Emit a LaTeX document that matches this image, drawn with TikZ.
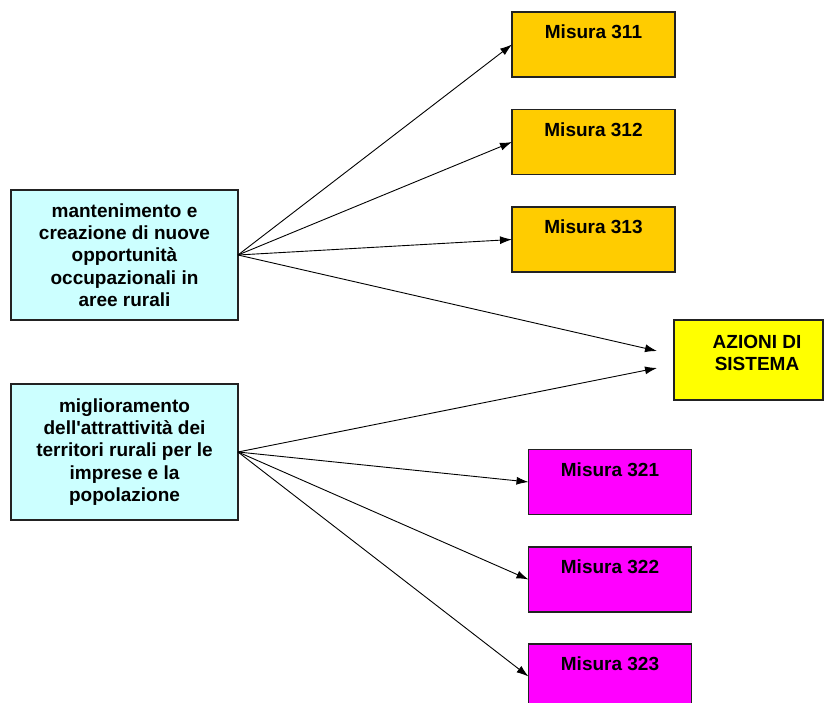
\documentclass[tikz,border=0pt]{standalone}
\usepackage{fontspec}
\setmainfont{Liberation Sans}
\usetikzlibrary{arrows.meta}
\definecolor{cyanbox}{HTML}{CCFFFF}
\definecolor{orangebox}{HTML}{FFCC00}
\definecolor{yellowbox}{HTML}{FFFF00}
\definecolor{magentabox}{HTML}{FF00FF}
\definecolor{edge}{HTML}{222222}
\begin{document}
\begin{tikzpicture}[x=1pt,y=-1pt,
  box/.style={draw=edge,line width=1.2pt,inner sep=0pt,outer sep=0pt},
  leftbox/.style={box,fill=cyanbox,minimum width=227pt,minimum height=130pt,align=center,
    font=\fontsize{19}{22.25}\selectfont\bfseries},
  misbox/.style={box,minimum width=163pt,minimum height=65pt},
  boxtext/.style={anchor=north,inner sep=0pt,align=center,
    font=\fontsize{19}{22}\selectfont\bfseries},
  conn/.style={line width=0.9pt,-{Latex[length=12pt,width=8pt]}}]
\useasboundingbox (0,0) rectangle (825,703);
\clip (0,0) rectangle (825,703);

\node[leftbox] (l1) at (124.5,255) {mantenimento e\\creazione di nuove\\opportunità\\occupazionali in\\aree rurali};
\node[leftbox,minimum height=136pt] (l2) at (124.5,452) {miglioramento\\dell\textquotesingle attrattività dei\\territori rurali per le\\imprese e la\\popolazione};

\node[misbox,fill=orangebox] (m311) at (593.5,44.5) {};
\node[misbox,fill=orangebox] (m312) at (593.5,142) {};
\node[misbox,fill=orangebox] (m313) at (593.5,239.5) {};
\node[boxtext] (t311) at (593.5,25) {Misura 311};
\node[boxtext] (t312) at (593.5,122.5) {Misura 312};
\node[boxtext] (t313) at (593.5,220) {Misura 313};

\node[box,fill=yellowbox,minimum width=149pt,minimum height=80pt] (az) at (748.5,360) {};
\node[boxtext] (taz) at (757,335) {AZIONI DI\\SISTEMA};

\node[misbox,fill=magentabox] (m321) at (610,482) {};
\node[misbox,fill=magentabox] (m322) at (610,579.5) {};
\node[misbox,fill=magentabox] (m323) at (610,676.5) {};
\node[boxtext] (t321) at (610,462.5) {Misura 321};
\node[boxtext] (t322) at (610,560) {Misura 322};
\node[boxtext] (t323) at (610,657) {Misura 323};

\coordinate (az1) at (657,351);
\coordinate (az2) at (657,368);

\draw[conn] (l1.east) -- (m311.west);
\draw[conn] (l1.east) -- (m312.west);
\draw[conn] (l1.east) -- (m313.west);
\draw[conn] (l1.east) -- (az1);
\draw[conn] (l2.east) -- (az2);
\draw[conn] (l2.east) -- (m321.west);
\draw[conn] (l2.east) -- (m322.west);
\draw[conn] (l2.east) -- (m323.west);
\end{tikzpicture}
\end{document}
